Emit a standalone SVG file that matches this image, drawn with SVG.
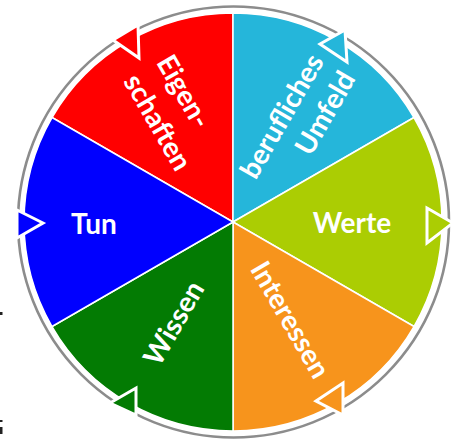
<svg xmlns="http://www.w3.org/2000/svg" width="455" height="443" viewBox="0 0 455 443">
<style>
.w{stroke:#fff;stroke-width:1.5;stroke-linejoin:round}
.t{font-family:Lato,"Open Sans","Liberation Sans",sans-serif;font-weight:700;font-size:28px;fill:#fff}
.ring{fill:none;stroke:#8c8c8c;stroke-width:2.6}
.arr{stroke:#fff;stroke-width:3;stroke-linejoin:miter}
</style>
<rect width="455" height="443" fill="#fff"/>
<g id="eigenschaften">
<path class="w" fill="#ff0000" d="M233,222 L52,117.5 A209,209 0 0 1 233,13 Z"/>
<g transform="translate(233,222) rotate(60)"><text class="t" x="-177" y="-13">Eigen-</text><text class="t" x="-177" y="25">schaften</text></g>
</g>
<g id="umfeld">
<path class="w" fill="#25b6da" d="M233,222 L233,13 A209,209 0 0 1 414,117.5 Z"/>
<g transform="translate(233,222) rotate(-60)"><text class="t" x="185" y="-1" text-anchor="end">berufliches</text><text class="t" x="186" y="35" text-anchor="end">Umfeld</text></g>
</g>
<g id="werte">
<path class="w" fill="#abcd03" d="M233,222 L414,117.5 A209,209 0 0 1 414,326.5 Z"/>
<text class="t" x="352" y="233" text-anchor="middle">Werte</text>
</g>
<g id="interessen">
<path class="w" fill="#f7941c" d="M233,222 L414,326.5 A209,209 0 0 1 233,431 Z"/>
<g transform="translate(233,222) rotate(60)"><text class="t" x="178" y="9" text-anchor="end">Interessen</text></g>
</g>
<g id="wissen">
<path class="w" fill="#037b03" d="M233,222 L233,431 A209,209 0 0 1 52,326.5 Z"/>
<g transform="translate(233,222) rotate(-60)"><text class="t" x="-163" y="9">Wissen</text></g>
</g>
<g id="tun">
<path class="w" fill="#0000ff" d="M233,222 L52,326.5 A209,209 0 0 1 52,117.5 Z"/>
<text class="t" x="94" y="234" text-anchor="middle">Tun</text>
</g>
<g id="connectors">
<circle class="ring" cx="233.5" cy="222" r="215.5"/>
<polygon class="arr" fill="#ff0000" points="113,40 138,25 139,58"/>
<polygon class="arr" fill="#25b6da" points="320,44 345,30 347,62"/>
<polygon class="arr" fill="#abcd03" points="427,208 453,223 427,243"/>
<polygon class="arr" fill="#f7941c" points="316,401 343,383 343,415"/>
<polygon class="arr" fill="#037b03" points="110,403 136,388 136,415"/>
<polygon class="arr" fill="#0000ff" points="17,210 43,223 17,238"/>
</g>
<g fill="#222">
<rect x="0" y="312" width="2.5" height="3"/>
<rect x="0" y="420" width="2.5" height="2"/>
<rect x="0" y="427" width="2.5" height="7"/>
</g>
</svg>
